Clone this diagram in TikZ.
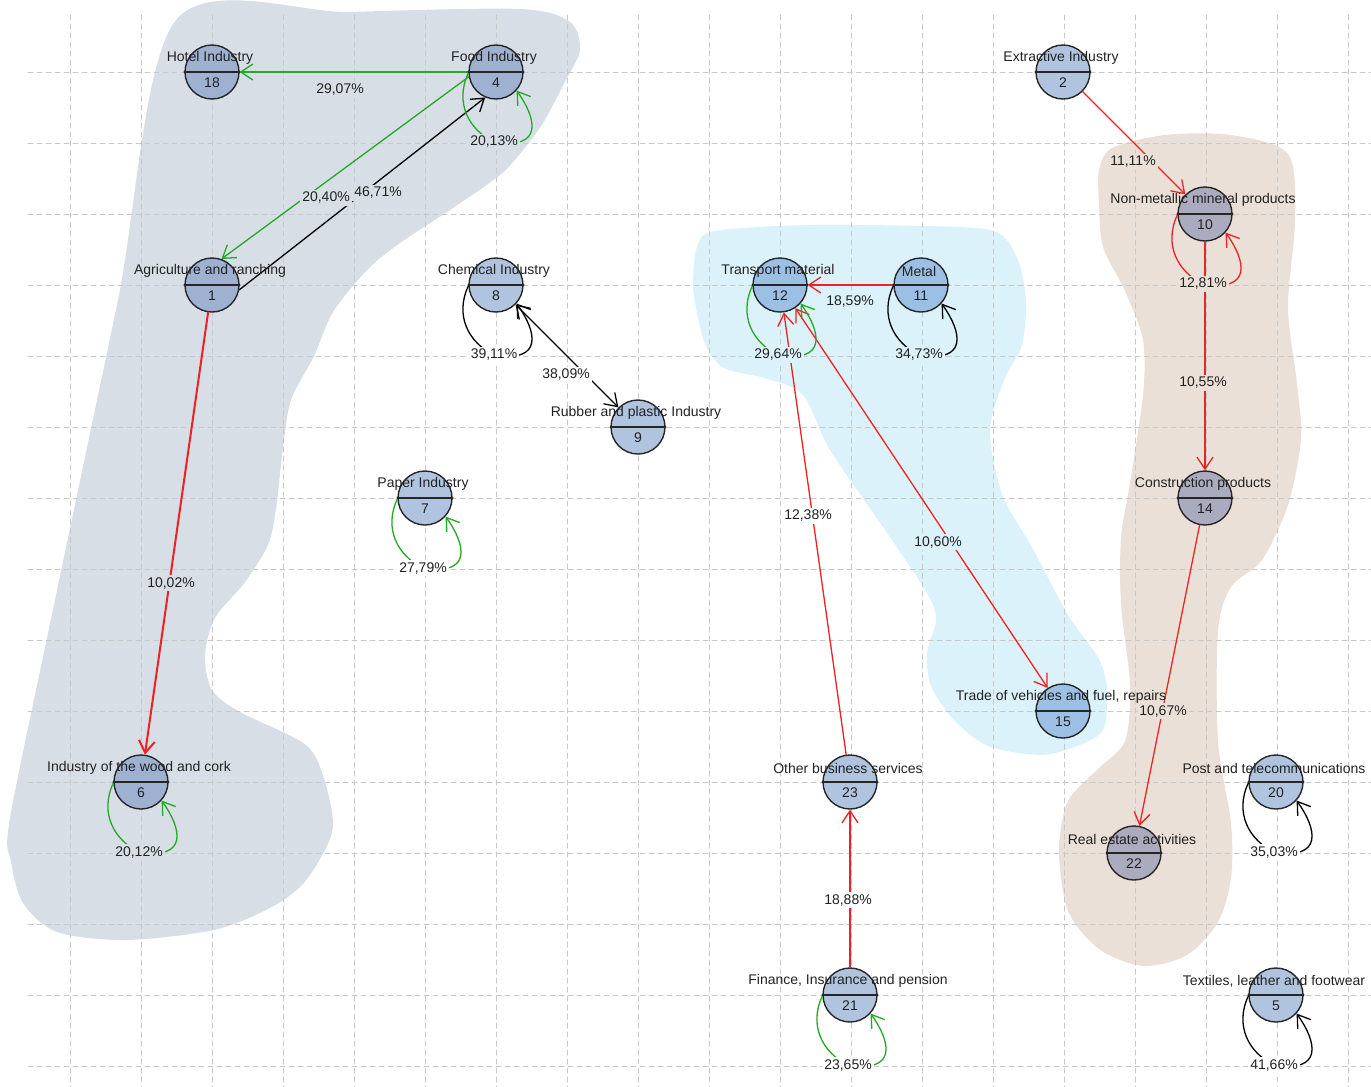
\documentclass[tikz,border=0pt]{standalone}
\usepackage{fontspec}
\setmainfont{Liberation Sans}
\usetikzlibrary{arrows.meta}
\definecolor{greyzone}{RGB}{215,222,229}
\definecolor{bluezone}{RGB}{220,242,251}
\definecolor{beigezone}{RGB}{235,224,215}
\definecolor{gridgrey}{RGB}{200,200,200}
\definecolor{plainnode}{RGB}{176,196,224}
\definecolor{greynode}{RGB}{158,177,209}
\definecolor{bluenode}{RGB}{156,192,228}
\definecolor{beigenode}{RGB}{170,171,190}
\definecolor{edgegreen}{RGB}{34,170,34}
\definecolor{edgered}{RGB}{238,34,34}
\definecolor{textdark}{RGB}{34,34,34}
\begin{document}
\begin{tikzpicture}[x=0.5pt,y=-0.5pt,line cap=round,line join=round,
  font=\fontsize{7}{8}\selectfont,
  >={Straight Barb[length=6pt,width=8pt]},
  gridline/.style={draw=gridgrey,line width=0.5pt,dash pattern=on 2.5pt off 2pt},
  sector/.style={circle,draw=black!85,line width=0.7pt,minimum size=27pt,inner sep=0pt},
  nametxt/.style={text=textdark,inner sep=0pt},
  numtxt/.style={text=textdark,inner sep=0pt},
  pct/.style={text=textdark,inner sep=1pt},
  flow/.style={->,line width=0.65pt},
  loopline/.style={->,line width=0.65pt}]
  \useasboundingbox (0,0) rectangle (1371,1087);

  % Hand-drawn clusters behind the graph.
  \fill[greyzone] plot[smooth cycle,tension=0.5] coordinates {
   (176,20) (350,12) (520,9) (570,22) (580,50) (567,78) (543,123) (523,150)
   (500,175) (450,210) (400,243) (367,270) (333,312) (314,356) (291,400)
   (283,448) (276,509) (268,545) (245,582) (215,618) (205,655) (212,690)
   (240,712) (306,745) (325,782) (333,824) (325,850) (302,885) (268,909)
   (214,930) (126,940) (57,932) (23,903) (11,861) (10,818) (55,600) (118,300)};
  \fill[bluezone] plot[smooth cycle,tension=0.5] coordinates {
   (693,286) (697,247) (715,231) (812,225) (960,227) (1000,234) (1018,260)
   (1026,300) (1022,345) (1005,378) (990,430) (1002,494) (1033,549) (1068,615)
   (1099,659) (1107,691) (1103,730) (1077,746) (1041,755) (988,746) (953,719)
   (931,686) (927,653) (936,620) (927,593) (883,527) (830,450) (803,395)
   (768,379) (724,368) (706,346) (698,318)};
  \fill[beigezone] plot[smooth cycle,tension=0.5] coordinates {
   (1099,170) (1112,148) (1165,135) (1231,135) (1288,154) (1295,220) (1288,307)
   (1297,384) (1301,439) (1288,505) (1262,560) (1231,587) (1218,631) (1218,741)
   (1231,823) (1231,878) (1218,922) (1187,955) (1143,966) (1099,949) (1068,911)
   (1059,851) (1068,801) (1099,768) (1125,741) (1130,686) (1121,604) (1121,538)
   (1130,483) (1143,395) (1143,340) (1125,291) (1103,247) (1099,203)};

  % Dashed layout grid.
  \foreach \gx in {70,141,...,1348}
   \draw[gridline] (\gx,15) -- (\gx,1087);
  \foreach \gy in {72,143,...,1066}
   \draw[gridline] (28,\gy) -- (1371,\gy);

  % Sectors: number, position, fill.
  \foreach \id/\px/\py/\kind in {
   18/212/72/greynode, 4/496/72/greynode, 2/1063/72/plainnode,
   10/1205/214/beigenode, 1/212/285/greynode, 8/496/285/plainnode,
   12/780/285/bluenode, 11/921/285/bluenode, 9/638/427/plainnode,
   7/425/498/plainnode, 14/1205/498/beigenode, 15/1063/711/bluenode,
   6/141/782/greynode, 23/850/782/plainnode, 20/1276/782/plainnode,
   22/1134/853/beigenode, 21/850/995/plainnode, 5/1276/995/plainnode}{
   \node[sector,fill=\kind] (n\id) at (\px,\py) {};
  }

  % Flows between sectors.
  \draw[flow,draw=edgegreen] (n4) -- (n18);
  \draw[flow,draw=edgegreen] (n4.190) -- (n1.70);
  \draw[flow] (n1.-10) -- (n4.-113);
  \draw[flow,draw=edgered,line width=1pt] (n1) -- (n6);
  \draw[flow,<->] (n8) -- (n9);
  \draw[flow,draw=edgered] (n2) -- (n10);
  \draw[flow,draw=edgered] (n11) -- (n12);
  \draw[flow,draw=edgered] (n10) -- (n14);
  \draw[flow,draw=edgered] (n23) -- (n12);
  \draw[flow,draw=edgered,<->] (n12) -- (n15);
  \draw[flow,draw=edgered] (n14) -- (n22);
  \draw[flow,draw=edgered] (n21) -- (n23);

  % Flow shares.
  \node[pct,fill=greyzone] (p4-18) at (340,90) {29,07\%};
  \node[pct,fill=greyzone] (p4-1) at (326,198) {20,40\%};
  \node[pct,fill=greyzone] (p1-4) at (378,193) {46,71\%};
  \node[pct,fill=greyzone] (p1-6) at (171,583) {10,02\%};
  \node[pct,fill=white] (p8-9) at (566,375) {38,09\%};
  \node[pct,fill=beigezone] (p2-10) at (1133,162) {11,11\%};
  \node[pct,fill=bluezone] (p11-12) at (850,302) {18,59\%};
  \node[pct,fill=beigezone] (p10-14) at (1203,383) {10,55\%};
  \node[pct,fill=white] (p23-12) at (808,516) {12,38\%};
  \node[pct,fill=bluezone] (p12-15) at (938,542) {10,60\%};
  \node[pct,fill=beigezone] (p14-22) at (1163,711) {10,67\%};
  \node[pct,fill=white] (p21-23) at (848,900) {18,88\%};

  % Flows of a sector into itself.
  \foreach \id/\pct/\col/\bg in {
   4/{20,13}/edgegreen/greyzone, 6/{20,12}/edgegreen/greyzone,
   8/{39,11}/black/white, 7/{27,79}/edgegreen/white,
   10/{12,81}/edgered/beigezone, 12/{29,64}/edgegreen/bluezone,
   11/{34,73}/black/bluezone, 20/{35,03}/black/white,
   21/{23,65}/edgegreen/white, 5/{41,66}/black/white}{
   \coordinate (l\id) at ([shift={(-2,70)}]n\id.center);
   \draw[loopline,draw=\col] (n\id.182) .. controls +(-14,30) and +(-25,-12) .. (l\id)
    .. controls +(50,8) and +(20,28) .. (n\id.-42);
   \node[pct,fill=\bg] (p\id) at (l\id) {\pct\%};
  }

  % Divider, name and number of each sector.
  \foreach \id/\txt in {18/{Hotel Industry}, 4/{Food Industry},
   2/{Extractive Industry}, 10/{Non-metallic mineral products},
   1/{Agriculture and ranching}, 8/{Chemical Industry}, 12/{Transport material},
   11/{Metal}, 9/{Rubber and plastic Industry}, 7/{Paper Industry},
   14/{Construction products}, 15/{Trade of vehicles and fuel, repairs},
   6/{Industry of the wood and cork}, 23/{Other business services},
   20/{Post and telecommunications}, 22/{Real estate activities},
   21/{Finance, Insurance and pension}, 5/{Textiles, leather and footwear}}{
   \draw[line width=1pt,black!85] (n\id.west) -- (n\id.east);
   \node[nametxt] (t\id) at ([xshift=-1pt,yshift=7pt]n\id.center) {\txt};
   \node[numtxt] (c\id) at ([yshift=-5.5pt]n\id.center) {\id};
  }
\end{tikzpicture}
\end{document}
